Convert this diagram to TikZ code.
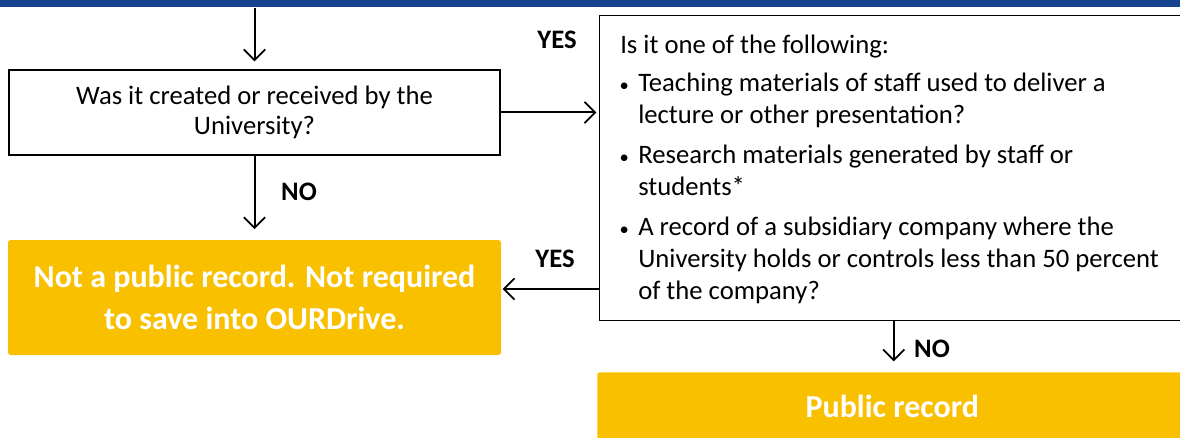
\documentclass[tikz,border=0pt]{standalone}
\usepackage{fontspec}
\setmainfont{Carlito}
\usetikzlibrary{arrows.meta}

\definecolor{barblue}{HTML}{17428F}
\definecolor{recgold}{HTML}{F9C000}

\tikzset{
  qbox/.style={draw, line width=1.1pt, inner sep=0pt},
  qtext/.style={font=\fontsize{20}{24}\selectfont, inner sep=0pt},
  recbox/.style={fill=recgold, rounded corners=2pt, inner sep=0pt, text=white,
    font=\fontsize{24}{31.5}\selectfont\bfseries, align=center},
  answer/.style={font=\fontsize{20}{22}\selectfont\bfseries, inner sep=0pt},
  flow/.style={line width=1.5pt, -{Straight Barb[length=8pt,width=16pt,line width=1.3pt]}},
}

\begin{document}
\begin{tikzpicture}[x=0.75pt,y=0.75pt,yscale=-1,xscale=1]

\useasboundingbox (0,0) rectangle (1180,438);

% header bar
\fill[barblue] (0,0) rectangle (1180,7);

% boxes
\node[qbox, qtext, align=center, minimum width=368.25pt, minimum height=63.75pt] (created) at (254.5,112.5) {Was it created or received by the\\[-1pt]University?};
\node[qbox, anchor=north west, minimum width=441pt, minimum height=228.75pt] (ques) at (599,15) {};
\node[recbox, minimum width=369.75pt, minimum height=86.25pt] (notpublic) at (254.5,297.5) {Not a public record. Not required\\to save into OURDrive.};
\node[recbox, anchor=north west, minimum width=442.5pt, minimum height=51pt] (public) at (597,372) {Public record};

% question text
\node[qtext, anchor=north west, align=left] (intro) at (620,35) {Is it one of the following:};
\foreach \ypos/\itemtext [count=\i] in {
  73/{Teaching materials of staff used to deliver a\\lecture or other presentation?},
  145/{Research materials generated by staff or\\students*},
  217/{A record of a subsidiary company where the\\University holds or controls less than 50 percent\\of the company?}} {
  \node[qtext, anchor=north west, align=left] (item\i) at (638,\ypos) {\llap{\fontsize{14}{14}\selectfont\textbullet\hspace{7pt}}\itemtext};
}

% connectors
\coordinate (entry) at (254.5,8);
\draw[flow, shorten >=6pt] (entry) -- (created.north);
\draw[flow, shorten >=2pt] (created.east) -- (created.east -| ques.west);
\draw[flow, shorten >=8pt] (created.south) -- (notpublic.north);
\draw[flow, shorten >=1pt] (ques.west |- 0,289) -- (notpublic.east |- 0,289);
\draw[flow, shorten >=8pt] (ques.south) -- (public.north -| ques.south);

% answers
\node[answer] (yes1) at (557,40) {YES};
\node[answer] (no1) at (299,192) {NO};
\node[answer] (yes2) at (555,259) {YES};
\node[answer] (no2) at (932,349) {NO};

\end{tikzpicture}
\end{document}
